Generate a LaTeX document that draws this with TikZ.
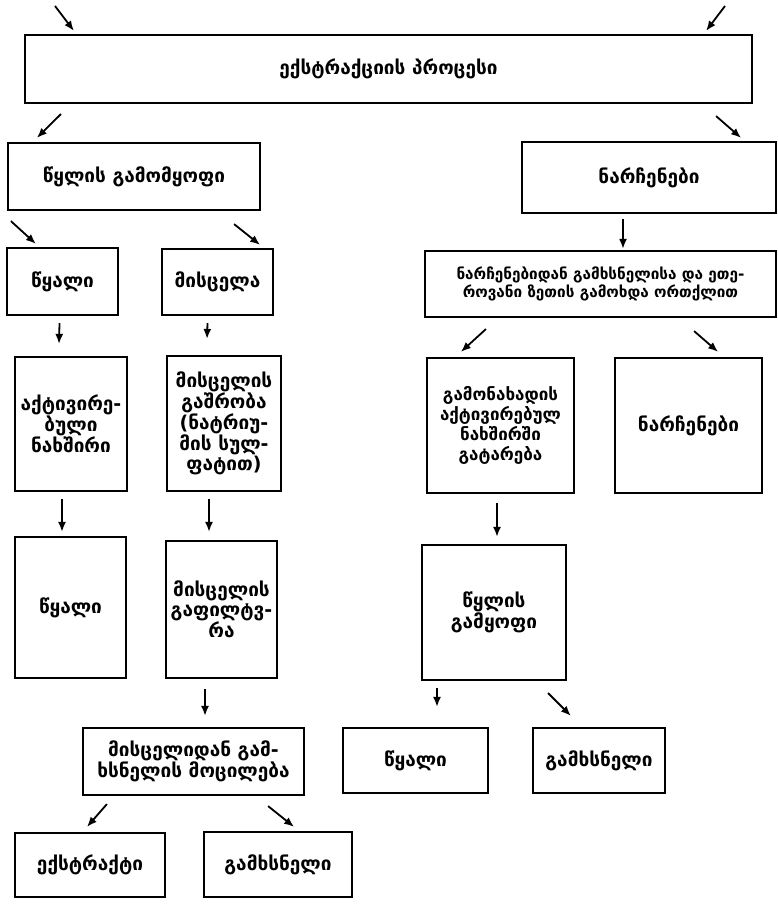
\documentclass[tikz,border=0pt]{standalone}
\usepackage{fontspec}
\setmainfont{DejaVu Sans}
\usetikzlibrary{arrows.meta,calc}

\begin{document}
\begin{tikzpicture}[x=1pt, y=-1pt,
        box/.style={draw, line width=2.2pt, align=center, inner sep=1pt,
            font=\fontsize{19}{20}\selectfont\bfseries},
        arr/.style={line width=1.8pt, -{Latex[length=10pt,width=8pt]}}]
            \useasboundingbox (0,0) rectangle (778,913);
            \node[box, minimum width=727pt, minimum height=68pt] (proc) at (388.5,69) {ექსტრაქციის პროცესი};
            \node[box, minimum width=252pt, minimum height=67pt] (sep1) at (134,176.5) {წყლის გამომყოფი};
            \node[box, minimum width=254pt, minimum height=71pt] (resid1) at (649,177.5) {ნარჩენები};
            \node[box, minimum width=111pt, minimum height=67pt] (water1) at (62.5,281.5) {წყალი};
            \node[box, minimum width=111pt, minimum height=66pt] (misc) at (217.5,282) {მისცელა};
            \node[box, minimum width=351pt, minimum height=66pt, font=\fontsize{15.3}{18}\selectfont\bfseries] (distill) at (600.5,284) {ნარჩენებიდან გამხსნელისა და ეთე-\\როვანი ზეთის გამოხდა ორთქლით};
            \node[box, minimum width=112pt, minimum height=134pt] (char) at (71,424) {აქტივირე-\\ბული\\ნახშირი};
            \node[box, minimum width=114pt, minimum height=135pt] (dry) at (224,423.5) {მისცელის\\გაშრობა\\(ნატრიუ-\\მის სულ-\\ფატით)};
            \node[box, minimum width=147pt, minimum height=135pt, font=\fontsize{17}{20}\selectfont\bfseries] (pass) at (500.5,425.5) {გამონახადის\\აქტივირებულ\\ნახშირში\\გატარება};
            \node[box, minimum width=147pt, minimum height=135pt] (resid2) at (688.5,425.5) {ნარჩენები};
            \node[box, minimum width=111pt, minimum height=141pt] (water2) at (70.5,607.5) {წყალი};
            \node[box, minimum width=111pt, minimum height=137pt] (filt) at (221.5,609.5) {მისცელის\\გაფილტვ-\\რა};
            \node[box, minimum width=144pt, minimum height=135pt] (sep2) at (494,612.5) {წყლის\\გამყოფი};
            \node[box, minimum width=221pt, minimum height=67pt] (remov) at (193.5,761.5) {მისცელიდან გამ-\\ხსნელის მოცილება};
            \node[box, minimum width=145pt, minimum height=65pt] (water3) at (415.5,760.5) {წყალი};
            \node[box, minimum width=132pt, minimum height=65pt] (solv1) at (599,760.5) {გამხსნელი};
            \node[box, minimum width=150pt, minimum height=64pt] (ext) at (90,865) {ექსტრაქტი};
            \node[box, minimum width=148pt, minimum height=65pt] (solv2) at (278,864.5) {გამხსნელი};
            \coordinate (inL) at (55,6);
            \coordinate (inR) at (725,6);
            \draw[arr] (inL) -- ($(proc.north west)+(50,-3)$);
            \draw[arr] (inR) -- ($(proc.north east)+(-47,-3)$);
            \draw[arr] ($(proc.south west)+(37,10)$) -- ($(sep1.north west)+(30,-4)$);
            \draw[arr] ($(proc.south east)+(-37,12)$) -- ($(resid1.north east)+(-36,-3)$);
            \draw[arr] ($(sep1.south west)+(4,10)$) -- ($(water1.north west)+(30,-3)$);
            \draw[arr] ($(sep1.south east)+(-27,13)$) -- ($(misc.north east)+(-14,-3)$);
            \draw[arr, line width=2.6pt] ($(resid1.south)+(-26,5)$) -- ($(distill.north)+(22.5,-1)$);
            \draw[arr] ($(water1.south)+(-3,7)$) -- ($(char.north)+(-12,-12)$);
            \draw[arr] ($(misc.south)+(-10,7)$) -- ($(dry.north)+(-17,-16)$);
            \draw[arr] ($(char.south)+(-9,7)$) -- ($(water2.north)+(-8.5,-4)$);
            \draw[arr] ($(dry.south)+(-15,7)$) -- ($(filt.north)+(-12.5,-8)$);
            \draw[arr] ($(distill.south west)+(62,11)$) -- ($(pass.north west)+(35,-5)$);
            \draw[arr] ($(distill.south east)+(-83,13)$) -- ($(resid2.north east)+(-45,-5)$);
            \draw[arr] ($(pass.south)+(-3.5,9)$) -- ($(sep2.north)+(3,-7)$);
            \draw[arr] ($(filt.south)+(-16.5,10)$) -- ($(remov.north)+(11.5,-11)$);
            \draw[arr] ($(sep2.south)+(-57,7)$) -- ($(water3.north)+(21.5,-20)$);
            \draw[arr] ($(sep2.south east)+(-19,12)$) -- ($(solv1.north west)+(39,-11)$);
            \draw[arr] ($(remov.south west)+(25,8)$) -- ($(ext.north)+(-3,-5)$);
            \draw[arr] ($(remov.south east)+(-37,10)$) -- ($(solv2.north east)+(-59,-4)$);
        \end{tikzpicture}
\end{document}
